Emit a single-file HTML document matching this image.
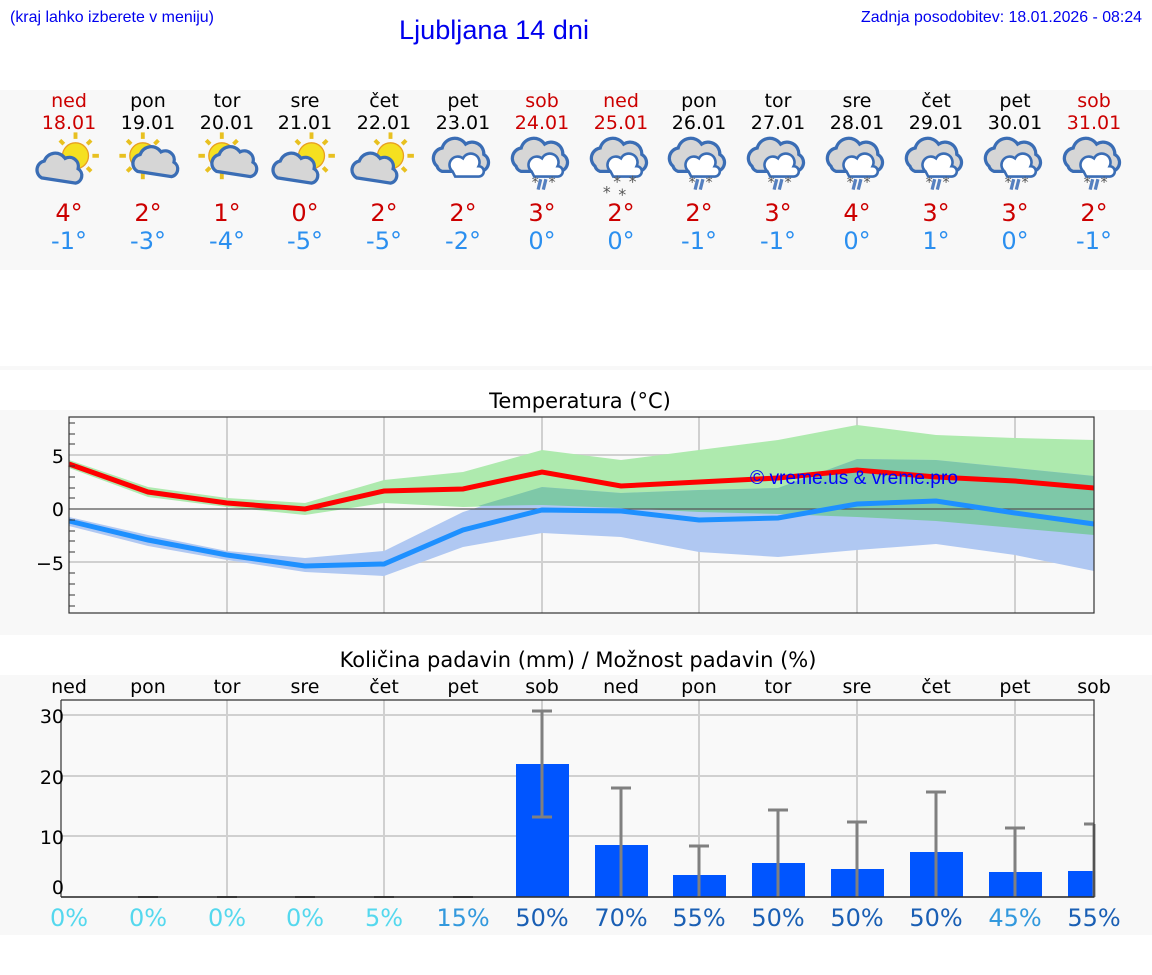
<!DOCTYPE html>
<html><head><meta charset="utf-8"><style>
body{margin:0;background:#fff;}
svg{display:block}
.h{font-family:"DejaVu Sans","Liberation Sans",sans-serif;}
</style></head><body>
<svg width="1152" height="975" xmlns="http://www.w3.org/2000/svg" class="h">
<defs>
<g id="sun"><g stroke="#e8c020" stroke-width="3"><line x1="0" y1="-18" x2="0" y2="-13"/><line x1="0" y1="18" x2="0" y2="13"/><line x1="-18" y1="0" x2="-13" y2="0"/><line x1="18" y1="0" x2="13" y2="0"/><line x1="-12" y1="-12" x2="-9" y2="-9"/><line x1="12" y1="12" x2="9" y2="9"/><line x1="-12" y1="12" x2="-9" y2="9"/><line x1="12" y1="-12" x2="9" y2="-9"/></g><circle r="10" fill="#f5e020" stroke="#e8a020" stroke-width="1"/></g>
<path id="cl" d="M-16,8 a7,7 0 0 1 2,-13 a9,9 0 0 1 16,-2 a7,7 0 0 1 10,8 a6,6 0 0 1 -2,11 z" fill="#d6d6d6" stroke="#3a6db5" stroke-width="2.5"/>
<g id="rc"><path d="M-20,4 a8,8 0 0 1 4,-14 a10,10 0 0 1 18,-3 a9,9 0 0 1 14,8 a7,7 0 0 1 -2,13 h-30 a6,6 0 0 1 -4,-4z" fill="#d6d6d6" stroke="#3a6db5" stroke-width="2.5"/><path d="M-8,8 a6,6 0 0 1 8,-10 a6,6 0 0 1 12,6 a4,4 0 0 1 0,8 h-18z" fill="#fff" stroke="#3a6db5" stroke-width="2"/></g>
<g id="rain"><use href="#rc"/><g stroke="#5580c0" stroke-width="2.5"><line x1="-1" y1="14" x2="-3" y2="22"/><line x1="3" y1="14" x2="1" y2="22"/></g><text x="-8" y="20" font-size="11" fill="#555">*</text><text x="5" y="20" font-size="11" fill="#555">*</text></g>
<g id="snow"><use href="#rc"/><g font-size="12" fill="#555"><text x="-14" y="28">*</text><text x="-6" y="20">*</text><text x="-2" y="30">*</text><text x="6" y="20">*</text></g></g>
</defs>
<text x="10" y="22" font-family="Liberation Sans,sans-serif" font-size="16" fill="#0000ee" textLength="204" lengthAdjust="spacingAndGlyphs">(kraj lahko izberete v meniju)</text>
<text x="399" y="39" font-family="Liberation Sans,sans-serif" font-size="27" fill="#0000ee" textLength="190" lengthAdjust="spacingAndGlyphs">Ljubljana 14 dni</text>
<text x="861" y="22" font-family="Liberation Sans,sans-serif" font-size="16" fill="#0000ee" textLength="281" lengthAdjust="spacingAndGlyphs">Zadnja posodobitev: 18.01.2026 - 08:24</text>
<rect x="0" y="90" width="1152" height="180" fill="#f8f8f8"/>
<rect x="0" y="366" width="1152" height="4" fill="#f8f8f8"/>
<rect x="0" y="410" width="1152" height="225" fill="#f8f8f8"/>
<rect x="0" y="675" width="1152" height="260" fill="#f8f8f8"/>
<g font-size="19" text-anchor="middle">
<g fill="#cc0000"><text x="69" y="107">ned</text><text x="69" y="129">18.01</text><text x="542" y="107">sob</text><text x="542" y="129">24.01</text><text x="621" y="107">ned</text><text x="621" y="129">25.01</text><text x="1094" y="107">sob</text><text x="1094" y="129">31.01</text></g>
<g fill="#000"><text x="148" y="107">pon</text><text x="148" y="129">19.01</text><text x="227" y="107">tor</text><text x="227" y="129">20.01</text><text x="305" y="107">sre</text><text x="305" y="129">21.01</text><text x="384" y="107">čet</text><text x="384" y="129">22.01</text><text x="463" y="107">pet</text><text x="463" y="129">23.01</text><text x="699" y="107">pon</text><text x="699" y="129">26.01</text><text x="778" y="107">tor</text><text x="778" y="129">27.01</text><text x="857" y="107">sre</text><text x="857" y="129">28.01</text><text x="936" y="107">čet</text><text x="936" y="129">29.01</text><text x="1015" y="107">pet</text><text x="1015" y="129">30.01</text></g>
</g>
<g transform="translate(69,161) scale(1.3)"><use href="#sun" x="5" y="-4"/><use href="#cl" x="-5" y="5"/></g>
<g transform="translate(148,161) scale(1.3)"><use href="#sun" x="-4" y="-4"/><use href="#cl" x="8" y="0"/></g>
<g transform="translate(227,161) scale(1.3)"><use href="#sun" x="-4" y="-4"/><use href="#cl" x="8" y="0"/></g>
<g transform="translate(305,161) scale(1.3)"><use href="#sun" x="5" y="-4"/><use href="#cl" x="-5" y="5"/></g>
<g transform="translate(384,161) scale(1.3)"><use href="#sun" x="5" y="-4"/><use href="#cl" x="-5" y="5"/></g>
<g transform="translate(463,161) scale(1.3)"><use href="#rc"/></g>
<g transform="translate(542,161) scale(1.3)"><use href="#rain"/></g>
<g transform="translate(621,161) scale(1.3)"><use href="#snow"/></g>
<g transform="translate(699,161) scale(1.3)"><use href="#rain"/></g>
<g transform="translate(778,161) scale(1.3)"><use href="#rain"/></g>
<g transform="translate(857,161) scale(1.3)"><use href="#rain"/></g>
<g transform="translate(936,161) scale(1.3)"><use href="#rain"/></g>
<g transform="translate(1015,161) scale(1.3)"><use href="#rain"/></g>
<g transform="translate(1094,161) scale(1.3)"><use href="#rain"/></g>
<g font-size="24" text-anchor="middle" fill="#cc0000"><text x="69" y="221">4°</text><text x="148" y="221">2°</text><text x="227" y="221">1°</text><text x="305" y="221">0°</text><text x="384" y="221">2°</text><text x="463" y="221">2°</text><text x="542" y="221">3°</text><text x="621" y="221">2°</text><text x="699" y="221">2°</text><text x="778" y="221">3°</text><text x="857" y="221">4°</text><text x="936" y="221">3°</text><text x="1015" y="221">3°</text><text x="1094" y="221">2°</text></g>
<g font-size="24" text-anchor="middle" fill="#2b8fef"><text x="69" y="249">-1°</text><text x="148" y="249">-3°</text><text x="227" y="249">-4°</text><text x="305" y="249">-5°</text><text x="384" y="249">-5°</text><text x="463" y="249">-2°</text><text x="542" y="249">0°</text><text x="621" y="249">0°</text><text x="699" y="249">-1°</text><text x="778" y="249">-1°</text><text x="857" y="249">0°</text><text x="936" y="249">1°</text><text x="1015" y="249">0°</text><text x="1094" y="249">-1°</text></g>

<text x="580" y="408" font-size="21" text-anchor="middle" fill="#000">Temperatura (°C)</text>
<rect x="69" y="417" width="1025" height="196" fill="#f9f9f9"/>
<g stroke="#d0d0d0" stroke-width="2"><line x1="227" y1="417" x2="227" y2="613"/><line x1="384" y1="417" x2="384" y2="613"/><line x1="542" y1="417" x2="542" y2="613"/><line x1="699" y1="417" x2="699" y2="613"/><line x1="857" y1="417" x2="857" y2="613"/><line x1="1015" y1="417" x2="1015" y2="613"/><line x1="69" y1="455" x2="1094" y2="455"/><line x1="69" y1="562" x2="1094" y2="562"/></g>
<polygon fill="#aeeaae" points="69,460 148,487 227,498 305,503 384,480 463,472 542,450 621,460 699,450 778,440 857,425 936,435 1015,438 1094,440 1094,535 1015,528 936,521 857,517 778,514 699,512 621,508 542,505 463,507 384,503 305,515 227,507 148,497 69,468"/>
<polygon fill="#b0c8f2" points="69,517 148,535 227,551 305,558 384,551 463,512 542,487 621,493 699,490 778,488 857,459 936,460 1015,468 1094,476 1094,571 1015,555 936,544 857,550 778,557 699,552 621,537 542,533 463,547 384,576 305,572 227,560 148,546 69,526"/>
<polygon fill="#7ec8a8" points="478,506 542,487 621,493 699,490 778,488 857,459 936,460 1015,468 1094,476 1094,535 1015,528 936,521 857,517 778,514 699,512 621,508 542,505"/>
<line x1="69" y1="509" x2="1094" y2="509" stroke="#555" stroke-width="1.3"/>
<polyline fill="none" stroke="#ff0000" stroke-width="5" points="69,464 148,492 227,503 305,509 384,491 463,489 542,472 621,486 699,482 778,478 857,470 936,477 1015,481 1094,488"/>
<polyline fill="none" stroke="#1e90ff" stroke-width="5" points="69,521 148,540 227,555 305,566 384,564 463,530 542,510 621,511 699,520 778,518 857,504 936,501 1015,513 1094,524"/>
<text x="750" y="484" font-family="Liberation Sans,sans-serif" font-size="19" fill="#0000ff" textLength="208" lengthAdjust="spacingAndGlyphs">© vreme.us &amp; vreme.pro</text>
<rect x="69" y="417" width="1025" height="196" fill="none" stroke="#333" stroke-width="1.2"/>
<g stroke="#333" stroke-width="1"><line x1="69" y1="423" x2="75" y2="423"/><line x1="69" y1="434" x2="75" y2="434"/><line x1="69" y1="444" x2="75" y2="444"/><line x1="69" y1="466" x2="75" y2="466"/><line x1="69" y1="477" x2="75" y2="477"/><line x1="69" y1="488" x2="75" y2="488"/><line x1="69" y1="498" x2="75" y2="498"/><line x1="69" y1="520" x2="75" y2="520"/><line x1="69" y1="531" x2="75" y2="531"/><line x1="69" y1="541" x2="75" y2="541"/><line x1="69" y1="552" x2="75" y2="552"/><line x1="69" y1="573" x2="75" y2="573"/><line x1="69" y1="584" x2="75" y2="584"/><line x1="69" y1="595" x2="75" y2="595"/><line x1="69" y1="606" x2="75" y2="606"/></g>
<g font-size="19" text-anchor="end" fill="#000"><text x="64" y="463">5</text><text x="64" y="516">0</text><text x="64" y="570">−5</text></g>

<text x="578" y="667" font-size="21" text-anchor="middle" fill="#000">Količina padavin (mm) / Možnost padavin (%)</text>
<g font-size="19" text-anchor="middle" fill="#000"><text x="69" y="693">ned</text><text x="148" y="693">pon</text><text x="227" y="693">tor</text><text x="305" y="693">sre</text><text x="384" y="693">čet</text><text x="463" y="693">pet</text><text x="542" y="693">sob</text><text x="621" y="693">ned</text><text x="699" y="693">pon</text><text x="778" y="693">tor</text><text x="857" y="693">sre</text><text x="936" y="693">čet</text><text x="1015" y="693">pet</text><text x="1094" y="693">sob</text></g>
<rect x="61" y="700" width="1033" height="197" fill="#f9f9f9"/>
<g stroke="#d0d0d0" stroke-width="2"><line x1="227" y1="700" x2="227" y2="897"/><line x1="384" y1="700" x2="384" y2="897"/><line x1="542" y1="700" x2="542" y2="897"/><line x1="699" y1="700" x2="699" y2="897"/><line x1="857" y1="700" x2="857" y2="897"/><line x1="1015" y1="700" x2="1015" y2="897"/><line x1="61" y1="715" x2="1094" y2="715"/><line x1="61" y1="776" x2="1094" y2="776"/><line x1="61" y1="836" x2="1094" y2="836"/></g>
<g fill="#0055ff"><rect x="516" y="764" width="53" height="133"/><rect x="595" y="845" width="53" height="52"/><rect x="673" y="875" width="53" height="22"/><rect x="752" y="863" width="53" height="34"/><rect x="831" y="869" width="53" height="28"/><rect x="910" y="852" width="53" height="45"/><rect x="989" y="872" width="53" height="25"/><rect x="1068" y="871" width="26" height="26"/></g>
<g stroke="#444" stroke-width="2"><line x1="138" y1="897" x2="158" y2="897"/><line x1="217" y1="897" x2="237" y2="897"/><line x1="295" y1="897" x2="315" y2="897"/><line x1="374" y1="897" x2="394" y2="897"/><line x1="453" y1="897" x2="473" y2="897"/></g>
<g stroke="#808080" stroke-width="3"><path d="M542,711V817M532,711H552M532,817H552"/><path d="M621,788V897M611,788H631"/><path d="M699,846V897M689,846H709"/><path d="M778,810V897M768,810H788"/><path d="M857,822V897M847,822H867"/><path d="M936,792V897M926,792H946"/><path d="M1015,828V897M1005,828H1025"/><path d="M1094,824V897M1084,824H1094"/></g>
<path d="M61,700H1094V897H61" fill="none" stroke="#333" stroke-width="1.2"/>
<line x1="61" y1="897" x2="1094" y2="897" stroke="#333" stroke-width="1.5"/>
<line x1="61" y1="700" x2="61" y2="897" stroke="#333" stroke-width="1.2"/>
<g font-size="19" text-anchor="end" fill="#000"><text x="64" y="723">30</text><text x="64" y="784">20</text><text x="64" y="844">10</text><text x="64" y="894">0</text></g>
<g font-size="24" text-anchor="middle"><g fill="#55d8ee"><text x="69" y="926">0%</text><text x="148" y="926">0%</text><text x="227" y="926">0%</text><text x="305" y="926">0%</text><text x="384" y="926">5%</text></g><g fill="#3399dd"><text x="463" y="926">15%</text><text x="1015" y="926">45%</text></g><g fill="#1a5fb4"><text x="542" y="926">50%</text><text x="621" y="926">70%</text><text x="699" y="926">55%</text><text x="778" y="926">50%</text><text x="857" y="926">50%</text><text x="936" y="926">50%</text><text x="1094" y="926">55%</text></g></g>
</svg>
</body></html>
